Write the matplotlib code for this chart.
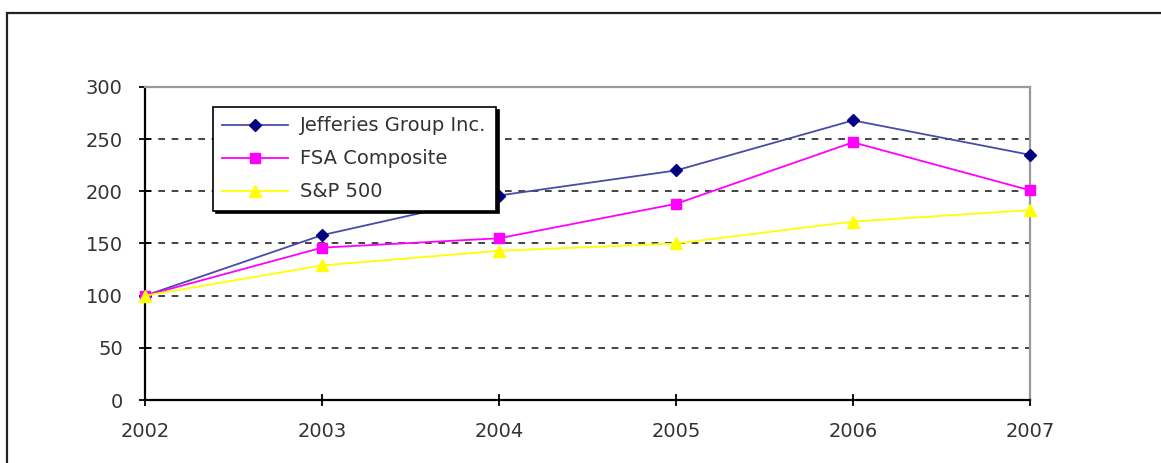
import matplotlib
matplotlib.use("Agg")
import matplotlib.pyplot as plt
from matplotlib.patches import Rectangle

plt.rcParams['font.family'] = ['DejaVu Sans']

# data
years = [2002, 2003, 2004, 2005, 2006, 2007]
jefferies = [100, 158, 196, 220, 268, 235]
fsa = [100, 146, 155, 188, 247, 201]
sp500 = [100, 129, 143, 150, 171, 182]

text_color = '#333333'

fig = plt.figure(figsize=(11.61, 4.63), dpi=100)
W, H = 1161, 463

# outer frame of the picture (bottom edge runs off the image)
fig.patches.append(Rectangle((7 / W, -0.2), 1.2, 1.2 - 13 / H, transform=fig.transFigure,
                             fill=False, edgecolor='#222222', linewidth=1.6))

ax = fig.add_axes([145 / W, 63 / H, 885 / W, 313 / H])

ax.plot(years, jefferies, color='#4a4aa8', linewidth=1.3, marker='D', markersize=6,
        markerfacecolor='#000080', markeredgecolor='#000080', label='Jefferies Group Inc.',
        zorder=3, clip_on=False)
ax.plot(years, fsa, color='#ff00ff', linewidth=1.3, marker='s', markersize=7,
        markerfacecolor='#ff00ff', markeredgecolor='#ff00ff', label='FSA Composite',
        zorder=3, clip_on=False)
ax.plot(years, sp500, color='#ffff00', linewidth=1.3, marker='^', markersize=8,
        markerfacecolor='#ffff00', markeredgecolor='#ffff00', label='S&P 500',
        zorder=3, clip_on=False)

ax.set_xlim(2002, 2007)
ax.set_ylim(0, 300)
ax.set_xticks(years)
ax.set_yticks(range(0, 301, 50))

for y in range(50, 300, 50):
    ax.axhline(y, color='#222222', linestyle=(0, (4, 4)), linewidth=1.2, zorder=1)

ax.spines['left'].set_color('black')
ax.spines['bottom'].set_color('black')
ax.spines['left'].set_linewidth(1.6)
ax.spines['bottom'].set_linewidth(1.6)
ax.spines['top'].set_color('#999999')
ax.spines['right'].set_color('#999999')
ax.spines['top'].set_linewidth(1.6)
ax.spines['right'].set_linewidth(1.6)

ax.tick_params(axis='both', direction='inout', length=8, width=1.3, colors='black',
               labelcolor=text_color, labelsize=14)
ax.tick_params(axis='x', pad=12)
ax.tick_params(axis='y', pad=12)

leg = ax.legend(loc='upper left', bbox_to_anchor=(213 / W, 1 - 107 / H),
                bbox_transform=fig.transFigure, borderaxespad=0, fontsize=14,
                frameon=True, fancybox=False, shadow={'color': 'black', 'alpha': 1},
                handlelength=3.4, borderpad=0.48, labelspacing=0.72, handletextpad=0.6)
leg.get_frame().set_edgecolor('black')
leg.get_frame().set_linewidth(1.2)
leg.set_zorder(10)
for t in leg.get_texts():
    t.set_color(text_color)

fig.savefig("out.png", dpi=100)
